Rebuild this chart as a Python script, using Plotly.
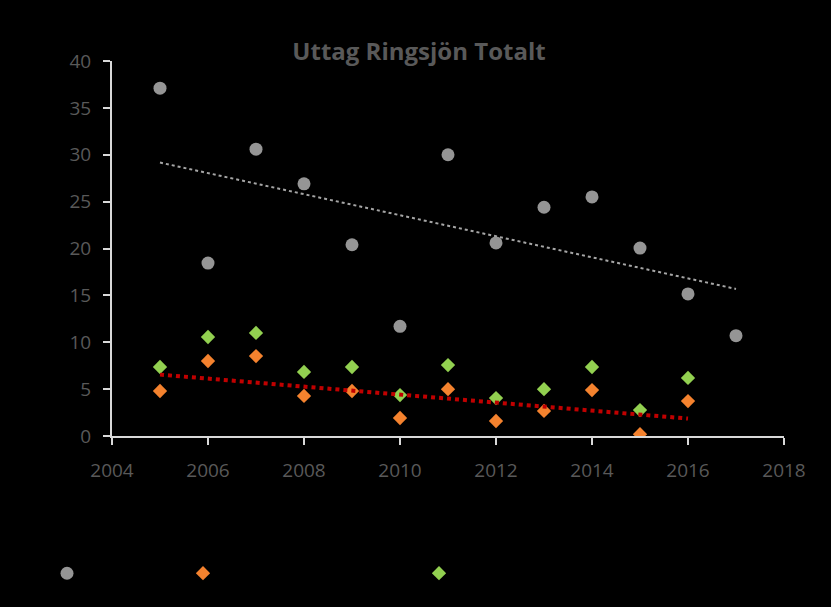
import numpy as np
import plotly.graph_objects as go

years_total = [2005, 2006, 2007, 2008, 2009, 2010, 2011, 2012, 2013, 2014, 2015, 2016, 2017]
total = [37.1, 18.45, 30.6, 26.9, 20.4, 11.7, 30.0, 20.6, 24.4, 25.5, 20.05, 15.15, 10.7]

years_sub = [2005, 2006, 2007, 2008, 2009, 2010, 2011, 2012, 2013, 2014, 2015, 2016]
orange_vals = [4.8, 8.0, 8.53, 4.27, 4.8, 1.92, 5.0, 1.6, 2.67, 4.9, 0.2, 3.73]
green_vals = [7.36, 10.56, 11.0, 6.83, 7.36, 4.37, 7.57, 4.05, 5.0, 7.36, 2.77, 6.19]

names = ["Totalt", "Serie 2", "Serie 3"]

fig = go.Figure()

# trendlines
def trend(xs, ys):
    k, m = np.polyfit(xs, ys, 1)
    return [xs[0], xs[-1]], [k * xs[0] + m, k * xs[-1] + m]

tx, ty = trend(years_total, total)
fig.add_trace(go.Scatter(x=tx, y=ty, mode="lines", showlegend=False,
                         line=dict(color="#a6a6a6", width=2, dash="dot")))

fig.add_trace(go.Scatter(x=years_total, y=total, mode="markers", name=names[0],
                         marker=dict(symbol="circle", size=13, color="#959595"),
                         legend="legend"))
fig.add_trace(go.Scatter(x=years_sub, y=green_vals, mode="markers", name=names[2],
                         marker=dict(symbol="diamond", size=11, color="#92d050"),
                         legend="legend3"))
fig.add_trace(go.Scatter(x=years_sub, y=orange_vals, mode="markers", name=names[1],
                         marker=dict(symbol="diamond", size=11, color="#f4822e"),
                         legend="legend2"))

ox, oy = trend(years_sub, orange_vals)
fig.add_trace(go.Scatter(x=ox, y=oy, mode="lines", showlegend=False,
                         line=dict(color="#c00000", width=4, dash="dot")))

tickfont = dict(family="Open Sans, Liberation Sans, sans-serif", size=19, color="#595959")
axis_common = dict(showgrid=False, zeroline=False, showline=True,
                   linecolor="#d9d9d9", linewidth=2, ticks="outside",
                   tickcolor="#d9d9d9", ticklen=7, tickwidth=2, tickfont=tickfont)

leg_common = dict(orientation="h", bgcolor="rgba(0,0,0,0)",
                  font=dict(color="#000000", size=14), xanchor="left", yanchor="middle",
                  y=-0.367)

fig.update_layout(
    width=831, height=607,
    paper_bgcolor="#000000", plot_bgcolor="#000000",
    margin=dict(l=112, r=47, t=61, b=171),
    title=dict(text="<b>Uttag Ringsjön Totalt</b>", x=419 / 831, xref="container", xanchor="center",
               y=1 - 52 / 607, yanchor="middle",
               font=dict(family="Open Sans, Liberation Sans, sans-serif", size=24, color="#595959")),
    xaxis=dict(range=[2004, 2018], tickvals=list(range(2004, 2019, 2)),
               ticklabelstandoff=9, **axis_common),
    yaxis=dict(range=[0, 40], tickvals=list(range(0, 41, 5)),
               ticklabelstandoff=8, **axis_common),
    legend=dict(x=(67 - 20 - 112) / 672, **leg_common),
    legend2=dict(x=(203 - 20 - 112) / 672, **leg_common),
    legend3=dict(x=(439 - 20 - 112) / 672, **leg_common),
)

fig.write_html("out.html")
